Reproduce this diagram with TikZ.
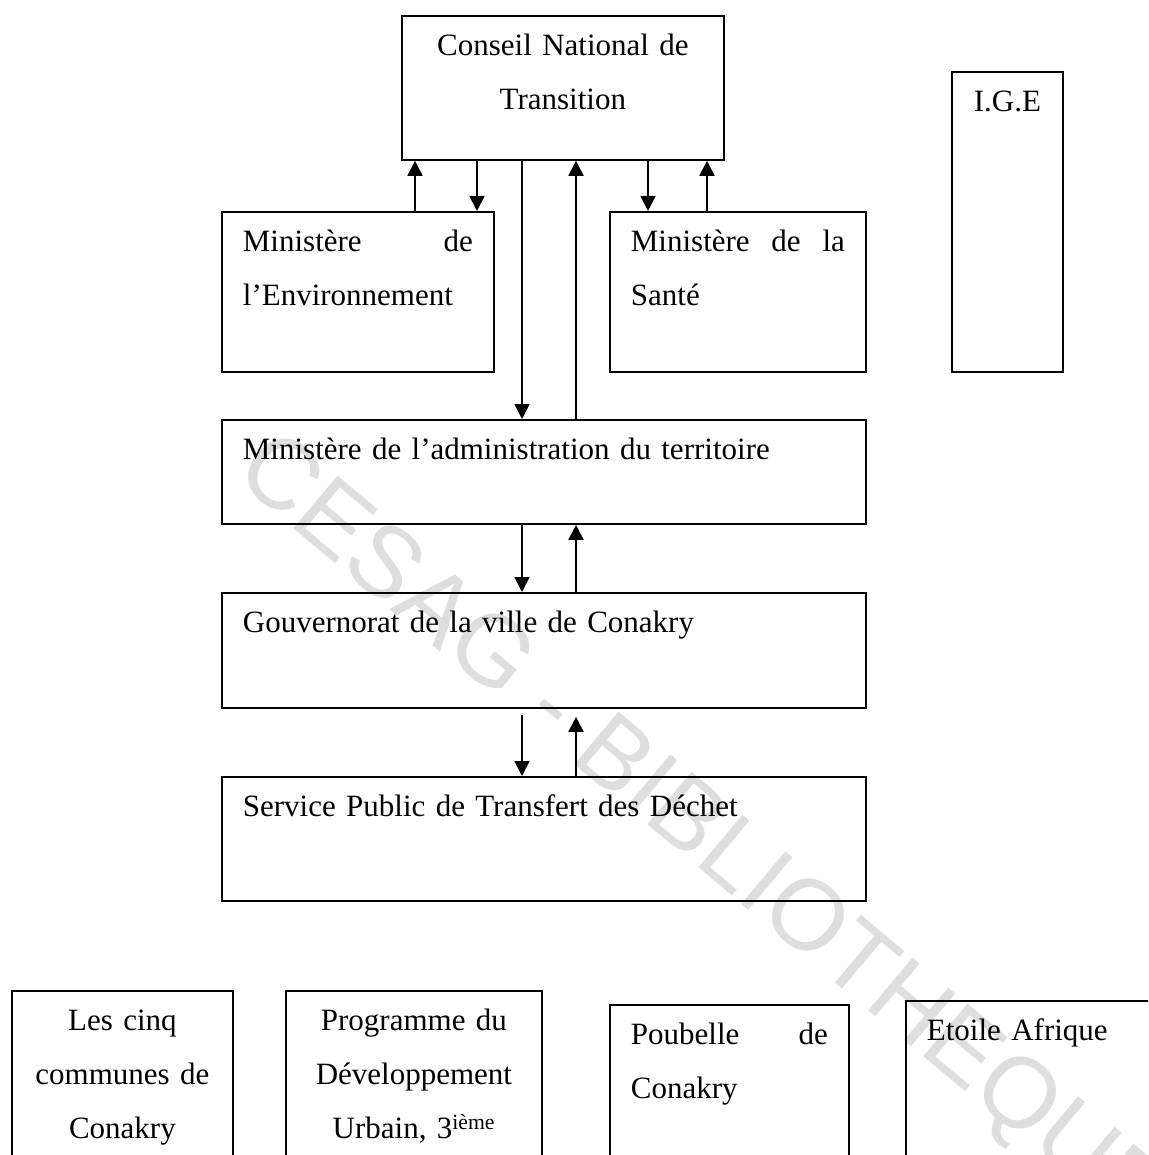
\documentclass[tikz,border=0pt]{standalone}
\usepackage{fontspec}
\setmainfont{Liberation Serif}
\newfontfamily\wmfont{Liberation Sans}
\usetikzlibrary{arrows.meta,positioning,calc}
\definecolor{WMgray}{RGB}{222,222,222}
\newcommand\orgfont{\fontsize{31}{54}\selectfont}
\tikzset{
  orgbox/.style={draw,line width=1.8pt,anchor=north west,inner xsep=21pt,inner ysep=0pt,
                 text height=40pt,font=\orgfont,align=left},
  cbox/.style={orgbox,align=center},
  fl/.style={-{Triangle[length=15pt,width=15pt]},line width=1.8pt},
  wm/.style={font=\wmfont\fontsize{100}{100}\selectfont,text=WMgray,rotate=-40}
}
\begin{document}
\begin{tikzpicture}[x=1pt,y=-1pt]
  \useasboundingbox (0,0) rectangle (1148,1155);
  \clip (0,0) rectangle (1148,1155);
  % watermark
  \node[wm] (wmark) at (700,836) {CESAG - BIBLIOTHEQUE};
  % upper part
  \node[cbox,text width=280pt,text depth=104pt] (cnt) at (401,15) {Conseil National de\\Transition};
  \node[cbox,inner xsep=5pt,text width=101pt,text depth=260pt] (ige) at (951,71) {I.G.E};
  \node[orgbox,text width=230pt,text depth=120pt] (env) at (221,211) {Ministère\hfill de\\l’Environnement};
  \node[orgbox,text width=214pt,text depth=120pt] (sante) at (609,211) {Ministère\hfill de\hfill la\\Santé};
  \node[orgbox,text width=602pt,text depth=64pt] (mat) at (221,419) {Ministère de l’administration du territoire};
  \node[orgbox,text width=602pt,text depth=75pt] (gouv) at (221,592) {Gouvernorat de la ville de Conakry};
  \node[orgbox,text width=602pt,text depth=84pt] (spt) at (221,776) {Service Public de Transfert des Déchet};
  % lower part, cut by the page
  \node[cbox,text width=179pt,text depth=200pt] (communes) at (11,990) {Les cinq\\communes de\\Conakry};
  \node[cbox,text width=214pt,text depth=200pt] (pdu) at (285,990) {Programme du\\Développement\\Urbain, 3\textsuperscript{ième}};
  \node[orgbox,text width=197pt,text depth=200pt] (poubelle) at (609,1004) {Poubelle\hfill de\\Conakry};
  \node[orgbox,text width=258pt,text depth=200pt] (etoile) at (905,1000) {Etoile Afrique};
  % lanes of the arrows
  \coordinate (la) at (415,0);
  \coordinate (lb) at (477,0);
  \coordinate (lc) at (522,0);
  \coordinate (ld) at (576,0);
  \coordinate (le) at (648,0);
  \coordinate (lf) at (707,0);
  \draw[fl] (la |- env.north) -- (la |- cnt.south);
  \draw[fl] (lb |- cnt.south) -- (lb |- env.north);
  \draw[fl] (lc |- cnt.south) -- (lc |- mat.north);
  \draw[fl] (ld |- mat.north) -- (ld |- cnt.south);
  \draw[fl] (le |- cnt.south) -- (le |- sante.north);
  \draw[fl] (lf |- sante.north) -- (lf |- cnt.south);
  \draw[fl] (lc |- mat.south) -- (lc |- gouv.north);
  \draw[fl] (ld |- gouv.north) -- (ld |- mat.south);
  \draw[fl] ([yshift=-6pt]lc |- gouv.south) -- (lc |- spt.north);
  \draw[fl] (ld |- spt.north) -- ([yshift=-8pt]ld |- gouv.south);
\end{tikzpicture}
\end{document}
